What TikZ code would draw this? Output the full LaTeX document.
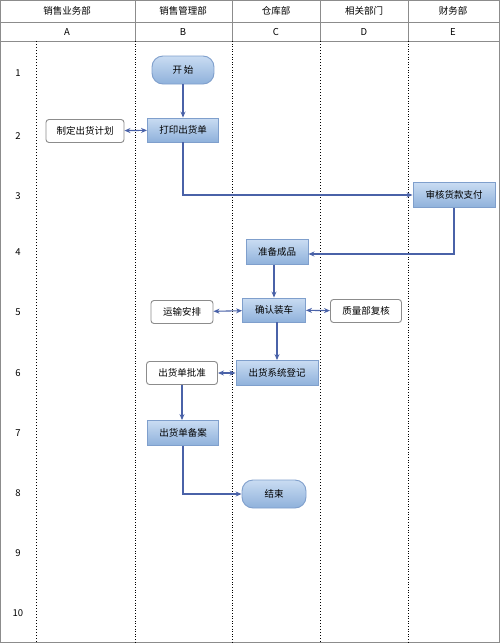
\documentclass[tikz,border=0pt]{standalone}
\usepackage{fontspec}
\setmainfont{Noto Sans CJK SC}
\usetikzlibrary{arrows.meta}
\definecolor{edgeblue}{HTML}{4A62A8}
\definecolor{boxline}{HTML}{7F9FCC}
\definecolor{boxtop}{HTML}{C9DCF2}
\definecolor{boxbot}{HTML}{8FB1DB}
\definecolor{frame}{HTML}{8C8C8C}
\tikzset{
  procbox/.style={draw=boxline, line width=0.9pt, top color=boxtop, bottom color=boxbot,
    minimum height=24pt, inner sep=1pt, font=\fontsize{9.5}{11}\selectfont},
  termbox/.style={procbox, rounded corners=11pt, minimum height=28pt},
  sidebox/.style={draw=frame, line width=0.9pt, fill=white, rounded corners=3pt,
    minimum height=23pt, inner sep=1pt, font=\fontsize{9.5}{11}\selectfont},
  flow/.style={draw=edgeblue, line width=1.1pt, -{Stealth[length=6pt,width=5pt]}},
  bflow/.style={draw=edgeblue, line width=1.1pt, {Stealth[length=6pt,width=5pt]}-{Stealth[length=6pt,width=5pt]}},
  hdr/.style={font=\fontsize{9.5}{11}\selectfont, inner sep=0pt},
  lane/.style={line width=1pt, dotted, black},
  lanethin/.style={line width=0.6pt, dotted, black}
}
\begin{document}
\begin{tikzpicture}[x=1pt,y=-1pt]
\useasboundingbox (0,0) rectangle (500,643);
% frame and header
\draw[frame, line width=1.2pt] (0.6,0.6) rectangle (499.4,642.4);
\draw[frame, line width=0.7pt] (0,22) -- (500,22) (0,41) -- (500,41);
\foreach \x in {135,232,320,408} \draw[frame, line width=0.7pt] (\x,0) -- (\x,41);
\node[hdr] (h1) at (67,11) {销售业务部};
\node[hdr] (h2) at (183,11) {销售管理部};
\node[hdr] (h3) at (276,11) {仓库部};
\node[hdr] (h4) at (364,11) {相关部门};
\node[hdr] (h5) at (453,11) {财务部};
\node[hdr] (l1) at (67,32) {A};
\node[hdr] (l2) at (183,32) {B};
\node[hdr] (l3) at (276,32) {C};
\node[hdr] (l4) at (364,32) {D};
\node[hdr] (l5) at (453,32) {E};
% lanes
\draw[lane] (36,41) -- (36,642);
\draw[lanethin] (135,41) -- (135,642);
\draw[lanethin] (232,41) -- (232,642);
\draw[lane] (320,41) -- (320,642);
\draw[lanethin] (408,41) -- (408,642);
% row numbers
\foreach \n/\y in {1/73,2/136,3/196,4/252,5/312,6/373,7/433,8/493,9/553,10/613}
  \node[hdr] (r\n) at (18,\y) {\n};
% nodes
\node[termbox, minimum width=62pt] (start) at (183,70) {开\,始};
\node[procbox, minimum width=71pt] (print) at (183,130) {打印出货单};
\node[sidebox, minimum width=78pt] (plan) at (85,131) {制定出货计划};
\node[procbox, minimum width=82pt, minimum height=25pt] (audit) at (454,195) {审核货款支付};
\node[procbox, minimum width=62pt, minimum height=25pt] (prep) at (277,252) {准备成品};
\node[procbox, minimum width=63pt] (load) at (274,310) {确认装车};
\node[sidebox, minimum width=62pt] (trans) at (182,312) {运输安排};
\node[sidebox, minimum width=71pt] (qc) at (366,311) {质量部复核};
\node[procbox, minimum width=82pt, minimum height=25pt] (reg) at (277,373) {出货系统登记};
\node[sidebox, minimum width=71pt] (appr) at (182,373) {出货单批准};
\node[procbox, minimum width=71pt, minimum height=25pt] (file) at (183,433) {出货单备案};
\node[termbox, minimum width=64pt] (end) at (274,494) {结束};
% connectors
\draw[flow] (start) -- (print);
\draw[bflow] (plan) -- (print);
\draw[flow] (print.south) |- (audit.west);
\draw[flow] (audit.south) |- ([yshift=-2pt]prep.east);
\draw[flow] (prep.south -| load.north) -- (load.north);
\draw[bflow] (trans) -- (load);
\draw[bflow] (load) -- (qc);
\draw[flow] (load.south -| reg.north) -- (reg.north);
\draw[bflow] (appr) -- (reg);
\draw[flow] (appr.south) -- (file.north -| appr.south);
\draw[flow] (file.south) |- (end.west);
\end{tikzpicture}
\end{document}
